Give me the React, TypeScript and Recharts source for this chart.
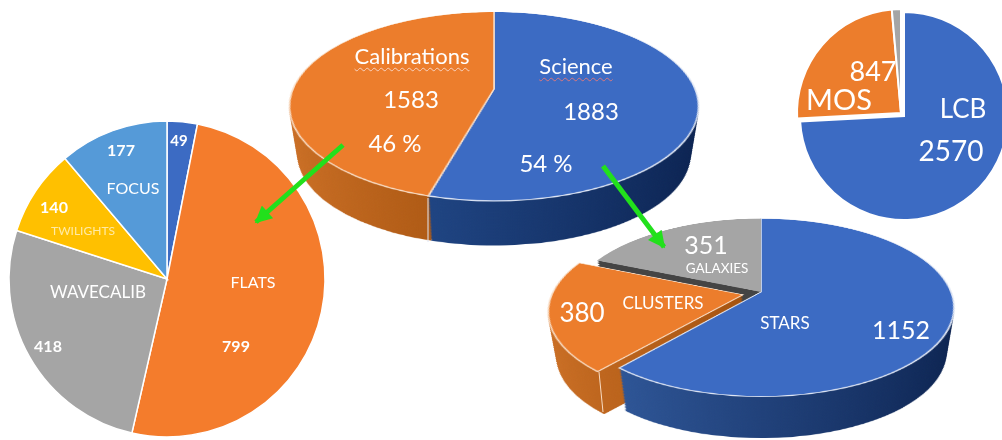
import { PieChart, Pie, Cell } from "recharts";

// top ellipse: science vs calibrations
const shareNames = ["Science", "Calibrations"];
const shareValues = [1883, 1583];
const sharePercents = [54, 46];

// lower ellipse: what the science frames looked at
const scienceNames = ["STARS", "CLUSTERS", "GALAXIES"];
const scienceValues = [1152, 380, 351];

// flat pie on the left: calibration frames
const calibNames = ["", "FLATS", "WAVECALIB", "TWILIGHTS", "FOCUS"];
const calibValues = [49, 799, 418, 140, 177];

// flat pie on the right: instrument mode
const modeNames = ["LCB", "MOS", ""];
const modeValues = [2570, 847, 49];

const BLUE = "#3c6bc3";
const ORANGE = "#ec7d2c";
const GREY = "#a5a5a5";

const toRows = (names: string[], values: number[]) =>
  names.map((name, i) => ({ name: name || `other${i}`, value: values[i] }));

function TiltedPie({ cx, cy, r, depth, rows, colors, sides, edges, shifted, shift }: any) {
  const size = 2 * (r + 30);
  const layers: number[] = [];
  for (let d = depth; d > 0; d -= 1.5) layers.push(d);
  layers.push(0);

  const groups = [
    rows.map((_: any, i: number) => !shifted.includes(i)),
    rows.map((_: any, i: number) => shifted.includes(i)),
  ];

  return (
    <>
      {layers.map((d) => (
        <div
          key={d}
          style={{
            position: "absolute",
            left: cx - size / 2,
            top: cy - size / 2,
            width: size,
            height: size,
            transformOrigin: "50% 50%",
            transform: `translateY(${d * 1.09}px) scale(${1 - (d / depth) * 0.04}) perspective(970px) rotateX(63deg)`,
          }}
        >
          <PieChart width={size} height={size} margin={{ top: 0, right: 0, bottom: 0, left: 0 }}>
            {groups.map((visible, g) =>
              visible.some(Boolean) ? (
                <Pie
                  key={g}
                  data={rows}
                  dataKey="value"
                  cx={size / 2 + (g ? shift[0] : 0)}
                  cy={size / 2 + (g ? shift[1] : 0)}
                  outerRadius={r}
                  innerRadius={0}
                  startAngle={90}
                  endAngle={-270}
                  isAnimationActive={false}
                  label={false}
                  labelLine={false}
                >
                  {rows.map((_: any, i: number) => (
                    <Cell
                      key={i}
                      fill={visible[i] ? (d === 0 ? colors[i] : sides[i]) : "none"}
                      stroke={visible[i] && d === 0 ? edges[i] : "none"}
                      strokeWidth={1.6}
                    />
                  ))}
                </Pie>
              ) : null
            )}
          </PieChart>
        </div>
      ))}
    </>
  );
}

function FlatPie({ cx, cy, r, rows, colors, shifted = [], shift = [0, 0], strokeWidth }: any) {
  const size = 2 * (r + 12);
  const groups = [
    rows.map((_: any, i: number) => !shifted.includes(i)),
    rows.map((_: any, i: number) => shifted.includes(i)),
  ];
  return (
    <div style={{ position: "absolute", left: cx - size / 2, top: cy - size / 2 }}>
      <PieChart width={size} height={size} margin={{ top: 0, right: 0, bottom: 0, left: 0 }}>
        {groups.map((visible, g) =>
          visible.some(Boolean) ? (
            <Pie
              key={g}
              data={rows}
              dataKey="value"
              cx={size / 2 + (g ? shift[0] : 0)}
              cy={size / 2 + (g ? shift[1] : 0)}
              outerRadius={r}
              startAngle={90}
              endAngle={-270}
              isAnimationActive={false}
              label={false}
              labelLine={false}
            >
              {rows.map((_: any, i: number) => (
                <Cell
                  key={i}
                  fill={visible[i] ? colors[i] : "none"}
                  stroke={visible[i] ? "#fff" : "none"}
                  strokeWidth={strokeWidth}
                />
              ))}
            </Pie>
          ) : null
        )}
      </PieChart>
    </div>
  );
}

function Label({ x, y, size, bold, color = "#fff", squiggle, children }: any) {
  return (
    <div
      style={{
        position: "absolute",
        left: x,
        top: y,
        transform: "translate(-50%, -50%)",
        fontFamily: "Lato, sans-serif",
        fontSize: size,
        fontWeight: bold ? 700 : 400,
        color,
        whiteSpace: "nowrap",
        lineHeight: 1,
        textDecoration: squiggle ? `underline wavy ${squiggle} 1px` : "none",
        textUnderlineOffset: 3,
      }}
    >
      {children}
    </div>
  );
}

export default function App() {
  return (
    <div
      style={{
        position: "absolute",
        left: 0,
        top: 0,
        width: 1002,
        height: 440,
        overflow: "hidden",
        background: "#fff",
        filter: "blur(0.4px)",
      }}
    >
      <svg width={0} height={0} style={{ position: "absolute" }}>
        <defs>
          <linearGradient id="sideBlue" x1="0" y1="0" x2="1" y2="0">
            <stop offset="0%" stopColor="#2e5596" />
            <stop offset="100%" stopColor="#0c2350" />
          </linearGradient>
          <linearGradient id="sideBlueDark" x1="0" y1="0" x2="1" y2="0">
            <stop offset="0%" stopColor="#1f4482" />
            <stop offset="100%" stopColor="#0b2250" />
          </linearGradient>
          <linearGradient id="sideOrange" x1="0" y1="0" x2="1" y2="0">
            <stop offset="0%" stopColor="#cc7026" />
            <stop offset="100%" stopColor="#a5530f" />
          </linearGradient>
        </defs>
      </svg>

      <TiltedPie
        cx={494}
        cy={89}
        r={201}
        depth={45}
        rows={toRows(shareNames, shareValues)}
        colors={[BLUE, ORANGE]}
        sides={["url(#sideBlueDark)", "url(#sideOrange)"]}
        edges={["#dfe6f4", "#f8dcc4"]}
        shifted={[]}
        shift={[0, 0]}
      />
      <TiltedPie
        cx={761}
        cy={292}
        r={190}
        depth={42}
        rows={toRows(scienceNames, scienceValues)}
        colors={[BLUE, ORANGE, GREY]}
        sides={["url(#sideBlue)", "url(#sideOrange)", "#444444"]}
        edges={["#dfe6f4", "#f8dcc4", "none"]}
        shifted={[1]}
        shift={[-18, 6]}
      />

      <FlatPie
        cx={167}
        cy={278.5}
        r={158}
        rows={toRows(calibNames, calibValues)}
        colors={[BLUE, "#f47c2c", GREY, "#ffc000", "#559ad8"]}
        strokeWidth={1.5}
      />
      <FlatPie
        cx={903.5}
        cy={115.5}
        r={104}
        rows={toRows(modeNames, modeValues)}
        colors={[BLUE, ORANGE, GREY]}
        shifted={[1, 2]}
        shift={[-3, -3]}
        strokeWidth={2}
      />

      <svg width={1002} height={440} style={{ position: "absolute", left: 0, top: 0 }}>
        <defs>
          <marker id="head" viewBox="0 0 10 10" refX="9" refY="5" markerWidth="19" markerHeight="17" markerUnits="userSpaceOnUse" orient="auto">
            <path d="M0 0 L10 5 L0 10 z" fill="#22e01c" />
          </marker>
        </defs>
        <line x1={428} y1={198} x2={428} y2={242} stroke="#dfe6f4" strokeWidth={1} />
        <line x1={599} y1={372} x2={603} y2={412} stroke="#f8dcc4" strokeWidth={1} />
        <line x1={343} y1={145} x2={256} y2={222} stroke="#22e01c" strokeWidth={5} markerEnd="url(#head)" />
        <line x1={603} y1={166} x2={664} y2={247} stroke="#22e01c" strokeWidth={5} markerEnd="url(#head)" />
      </svg>

      <Label x={412} y={56} size={22} squiggle="#f7d2c0">{shareNames[1]}</Label>
      <Label x={411} y={99} size={24}>{shareValues[1]}</Label>
      <Label x={395} y={143} size={24}>{sharePercents[1]} %</Label>
      <Label x={576} y={66} size={22} squiggle="#d9777f">{shareNames[0]}</Label>
      <Label x={591} y={111} size={24}>{shareValues[0]}</Label>
      <Label x={546} y={163} size={24}>{sharePercents[0]} %</Label>

      <Label x={706} y={244} size={25}>{scienceValues[2]}</Label>
      <Label x={717} y={269} size={13.5}>{scienceNames[2]}</Label>
      <Label x={663} y={302} size={17}>{scienceNames[1]}</Label>
      <Label x={582} y={312} size={26}>{scienceValues[1]}</Label>
      <Label x={785} y={322} size={17}>{scienceNames[0]}</Label>
      <Label x={901} y={329} size={25}>{scienceValues[0]}</Label>

      <Label x={179} y={140} size={15} bold>{calibValues[0]}</Label>
      <Label x={121} y={150} size={16} bold>{calibValues[4]}</Label>
      <Label x={133} y={188} size={16}>{calibNames[4]}</Label>
      <Label x={54} y={207} size={16} bold>{calibValues[3]}</Label>
      <Label x={83} y={231} size={12} color="#ffeaa6">{calibNames[3]}</Label>
      <Label x={98} y={291} size={17}>{calibNames[2]}</Label>
      <Label x={48} y={346} size={16} bold>{calibValues[2]}</Label>
      <Label x={253} y={282} size={16}>{calibNames[1]}</Label>
      <Label x={236} y={346} size={16} bold>{calibValues[1]}</Label>

      <Label x={873} y={70} size={27}>{modeValues[1]}</Label>
      <Label x={839} y={98} size={29}>{modeNames[1]}</Label>
      <Label x={963} y={108} size={26}>{modeNames[0]}</Label>
      <Label x={951} y={150} size={28}>{modeValues[0]}</Label>
    </div>
  );
}
